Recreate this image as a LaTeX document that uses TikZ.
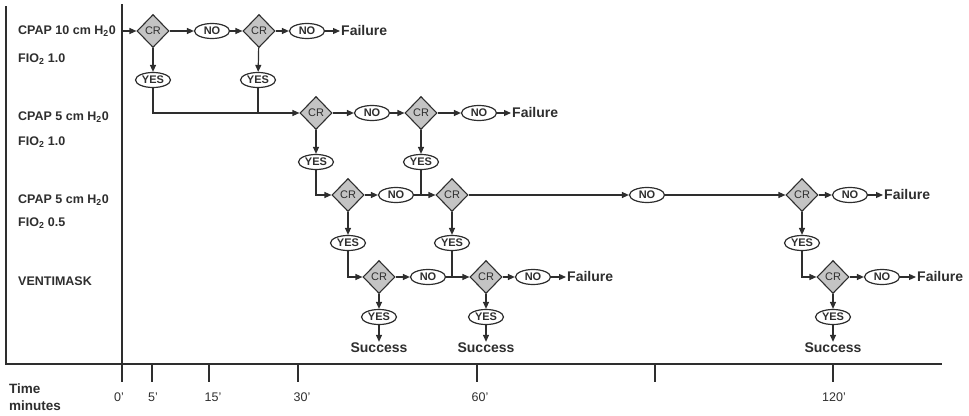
\documentclass[tikz,border=0pt]{standalone}
\usepackage{fontspec}
\setmainfont{Liberation Sans}
\usetikzlibrary{shapes.geometric,arrows.meta}
\definecolor{ink}{HTML}{2E2E2E}
\definecolor{crfill}{HTML}{C4C4C4}
\tikzset{
  flow/.style={draw=ink,line width=1.2pt},
  arr/.style={flow,-{Triangle[length=7pt,width=6pt]}},
  crbox/.style={shape=diamond,draw=ink,line width=1.1pt,fill=crfill,minimum width=32pt,minimum height=33pt,inner sep=0pt,font=\fontsize{11}{11}\selectfont,text=ink},
  ans/.style={shape=ellipse,draw=ink,line width=1.2pt,fill=white,minimum width=35pt,minimum height=15pt,inner sep=0pt,font=\bfseries\fontsize{11}{11}\selectfont,text=ink},
  endtxt/.style={anchor=west,inner sep=1pt,font=\bfseries\fontsize{14}{15}\selectfont,text=ink},
  succ/.style={inner sep=1pt,font=\bfseries\fontsize{14}{15}\selectfont,text=ink},
  rowlab/.style={anchor=west,inner sep=0pt,font=\bfseries\fontsize{12.5}{13}\selectfont,text=ink},
  ticklab/.style={inner sep=0pt,font=\fontsize{12.5}{13}\selectfont,text=ink},
  axis/.style={draw=ink,line width=1.1pt}
}
\begin{document}
\begin{tikzpicture}[x=1pt,y=-1pt]
\useasboundingbox (0,0) rectangle (969,415);
% frame and time axis
\coordinate (tl) at (6,6);
\coordinate (bl) at (6,364);
\coordinate (br) at (942,364);
\coordinate (zt) at (122,4);
\coordinate (zb) at (122,382);
\draw[axis] (tl) -- (bl) -- (br);
\draw[axis] (zt) -- (zb);
\foreach \x/\n in {152/t5,209/t15,298/t30,477/t60,655/t90,833/t120}{
  \coordinate (\n a) at (\x,364);
  \coordinate (\n b) at (\x,382);
  \draw[axis] (\n a) -- (\n b);
}
\node[ticklab] (l0) at (119,397) {0'};
\node[ticklab] (l5) at (153,397) {5'};
\node[ticklab] (l15) at (213,397) {15'};
\node[ticklab] (l30) at (302,397) {30'};
\node[ticklab] (l60) at (480,397) {60'};
\node[ticklab] (l120) at (834,397) {120'};
\node[rowlab,font=\bfseries\fontsize{13.5}{14}\selectfont] (time) at (9,389) {Time};
\node[rowlab,font=\bfseries\fontsize{13.5}{14}\selectfont] (mins) at (9,406) {minutes};
% row labels
\node[rowlab] (r1a) at (18,31) {CPAP 10 cm H\textsubscript{2}0};
\node[rowlab] (r1b) at (18,59) {FIO\textsubscript{2} 1.0};
\node[rowlab] (r2a) at (18,117) {CPAP 5 cm H\textsubscript{2}0};
\node[rowlab] (r2b) at (18,142) {FIO\textsubscript{2} 1.0};
\node[rowlab] (r3a) at (18,200) {CPAP 5 cm H\textsubscript{2}0};
\node[rowlab] (r3b) at (18,223) {FIO\textsubscript{2} 0.5};
\node[rowlab] (r4a) at (18,281) {VENTIMASK};
% row 1
\coordinate (s0) at (122,31);
\node[crbox] (c1) at (153,31) {CR};
\node[ans] (n1) at (212,31) {NO};
\node[crbox] (c2) at (259,31) {CR};
\node[ans] (n2) at (307,31) {NO};
\node[endtxt] (f1) at (340,30) {Failure};
\node[ans] (y1) at (153,80) {YES};
\node[ans] (y2) at (258,80) {YES};
% row 2
\node[crbox] (c3) at (316,113) {CR};
\node[ans] (n3) at (372,113) {NO};
\node[crbox] (c4) at (421,113) {CR};
\node[ans] (n4) at (479,113) {NO};
\node[endtxt] (f2) at (511,112) {Failure};
\node[ans] (y3) at (316,162) {YES};
\node[ans] (y4) at (421,162) {YES};
% row 3
\node[crbox] (c5) at (348,195) {CR};
\node[ans] (n5) at (396,195) {NO};
\node[crbox] (c6) at (452,195) {CR};
\node[ans] (n6) at (647,195) {NO};
\node[crbox] (c7) at (802,195) {CR};
\node[ans] (n7) at (850,195) {NO};
\node[endtxt] (f3) at (883,194) {Failure};
\node[ans] (y5) at (348,243) {YES};
\node[ans] (y6) at (452,243) {YES};
\node[ans] (y7) at (802,243) {YES};
% row 4
\node[crbox] (c9) at (379,277) {CR};
\node[ans] (n9) at (428,277) {NO};
\node[crbox] (c10) at (486,277) {CR};
\node[ans] (n10) at (533,277) {NO};
\node[endtxt] (f4) at (566,276) {Failure};
\node[crbox] (c8) at (833,277) {CR};
\node[ans] (n8) at (882,277) {NO};
\node[endtxt] (f5) at (916,276) {Failure};
\node[ans] (y9) at (379,317) {YES};
\node[ans] (y10) at (486,317) {YES};
\node[ans] (y8) at (833,317) {YES};
\node[succ] (sc1) at (379,348) {Success};
\node[succ] (sc2) at (486,348) {Success};
\node[succ] (sc3) at (833,348) {Success};
% connectors row 1
\draw[arr] (s0) -- (c1);
\draw[arr] (c1) -- (n1);
\draw[arr] (n1) -- (c2);
\draw[arr] (c2) -- (n2);
\draw[arr] (n2) -- (f1.west |- n2);
\draw[arr] (c1) -- (y1);
\draw[arr] (c2) -- (y2);
\draw[arr] (y1) |- (c3);
\draw[flow] (y2) -- (y2 |- c3);
% row 2
\draw[arr] (c3) -- (n3);
\draw[arr] (n3) -- (c4);
\draw[arr] (c4) -- (n4);
\draw[arr] (n4) -- (f2.west |- n4);
\draw[arr] (c3) -- (y3);
\draw[arr] (c4) -- (y4);
\draw[arr] (y3) |- (c5);
\draw[flow] (y4) -- (y4 |- c6);
% row 3
\draw[arr] (c5) -- (n5);
\draw[arr] (n5) -- (c6);
\draw[arr] (c6) -- (n6);
\draw[arr] (n6) -- (c7);
\draw[arr] (c7) -- (n7);
\draw[arr] (n7) -- (f3.west |- n7);
\draw[arr] (c5) -- (y5);
\draw[arr] (c6) -- (y6);
\draw[arr] (c7) -- (y7);
\draw[arr] (y5) |- (c9);
\draw[flow] (y6) -- (y6 |- c10);
\draw[arr] (y7) |- (c8);
% row 4
\draw[arr] (c9) -- (n9);
\draw[arr] (n9) -- (c10);
\draw[arr] (c10) -- (n10);
\draw[arr] (n10) -- (f4.west |- n10);
\draw[arr] (c8) -- (n8);
\draw[arr] (n8) -- (f5.west |- n8);
\draw[arr] (c9) -- (y9);
\draw[arr] (c10) -- (y10);
\draw[arr] (c8) -- (y8);
\draw[arr] (y9) -- (sc1);
\draw[arr] (y10) -- (sc2);
\draw[arr] (y8) -- (sc3);
\end{tikzpicture}
\end{document}
